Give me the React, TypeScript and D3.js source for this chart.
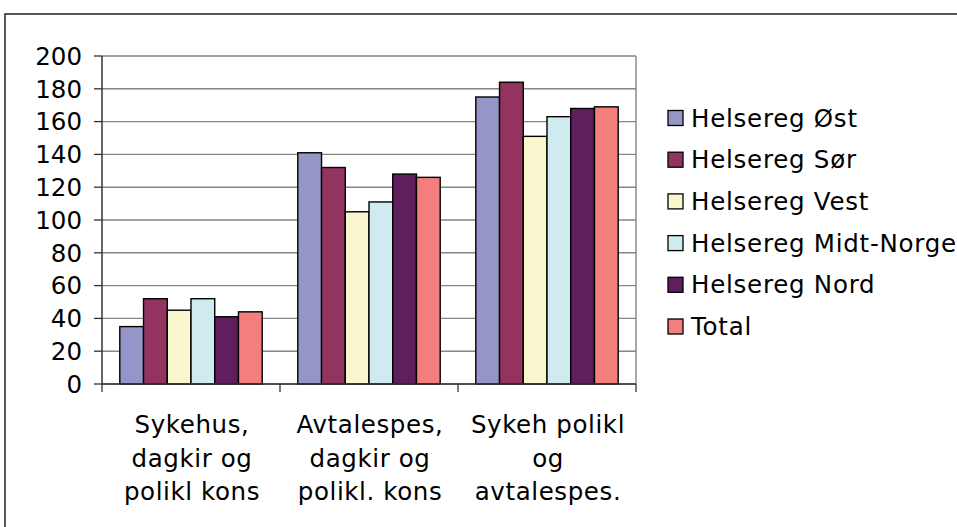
import React from "react";
import * as d3 from "d3";

const categories = [
  ["Sykehus,", "dagkir og", "polikl kons"],
  ["Avtalespes,", "dagkir og", "polikl. kons"],
  ["Sykeh polikl", "og", "avtalespes."],
];
const seriesNames = [
  "Helsereg Øst",
  "Helsereg Sør",
  "Helsereg Vest",
  "Helsereg Midt-Norge",
  "Helsereg Nord",
  "Total",
];
const seriesColors = ["#9595C8", "#933360", "#FAF7CE", "#CFEBEF", "#5F1E5E", "#F37E7E"];
const valuesOst = [35, 141, 175];
const valuesSor = [52, 132, 184];
const valuesVest = [45, 105, 151];
const valuesMidt = [52, 111, 163];
const valuesNord = [41, 128, 168];
const valuesTotal = [44, 126, 169];
const seriesValues = [valuesOst, valuesSor, valuesVest, valuesMidt, valuesNord, valuesTotal];
const yTicks = [0, 20, 40, 60, 80, 100, 120, 140, 160, 180, 200];

const FONT = "'DejaVu Sans', Verdana, sans-serif";

export default function App() {
  const W = 957;
  const H = 527;
  const left = 102;
  const right = 636;
  const top = 56;
  const bottom = 384;
  const catKeys = categories.map((_, i) => String(i));
  const x0 = d3.scaleBand<string>().domain(catKeys).range([left, right]).padding(0);
  const x1 = d3
    .scaleBand<string>()
    .domain(seriesNames)
    .range([0, x0.bandwidth()])
    .paddingInner(0)
    .paddingOuter(0.75);
  const y = d3.scaleLinear().domain([0, 200]).range([bottom, top]);
  const fs = 24.5;

  return (
    <div style={{ position: "absolute", left: 0, top: 0 }}>
      <svg width={W} height={H} style={{ display: "block", background: "#fff" }}>
        <rect x={5} y={14} width={1200} height={800} fill="#fff" stroke="#222" strokeWidth={1.5} />
        {/* gridlines */}
        {yTicks.map((t) => (
          <line key={"g" + t} x1={left} x2={right} y1={y(t)} y2={y(t)} stroke="#858585" strokeWidth={1.4} />
        ))}
        <line x1={right} x2={right} y1={top} y2={bottom} stroke="#858585" strokeWidth={1.4} />
        {/* bars */}
        {seriesNames.map((s, si) =>
          seriesValues[si].map((v, ci) => (
            <rect
              key={s + ci}
              x={(x0(String(ci)) as number) + (x1(s) as number)}
              y={y(v)}
              width={x1.bandwidth()}
              height={bottom - y(v)}
              fill={seriesColors[si]}
              stroke="#000"
              strokeWidth={1.4}
            />
          ))
        )}
        {/* axes */}
        <line x1={left} x2={left} y1={top} y2={bottom + 0.5} stroke="#333" strokeWidth={1.5} />
        <line x1={left} x2={right} y1={bottom} y2={bottom} stroke="#333" strokeWidth={1.5} />
        {yTicks.map((t) => (
          <g key={"t" + t}>
            <line x1={left - 8} x2={left} y1={y(t)} y2={y(t)} stroke="#333" strokeWidth={1.3} />
            <text x={82} y={y(t) + 8.8} textAnchor="end" fontFamily={FONT} fontSize={fs} fill="#000">
              {t}
            </text>
          </g>
        ))}
        {[...catKeys.map((k) => x0(k) as number), right].map((xx, i) => (
          <line key={"xt" + i} x1={xx} x2={xx} y1={bottom} y2={bottom + 8} stroke="#333" strokeWidth={1.3} />
        ))}
        {categories.map((lines, ci) => (
          <text
            key={"c" + ci}
            x={(x0(String(ci)) as number) + x0.bandwidth() / 2}
            y={433}
            textAnchor="middle"
            fontFamily={FONT}
            fontSize={fs}
            letterSpacing={0.6}
            fill="#000"
          >
            {lines.map((ln, li) => (
              <tspan key={li} x={(x0(String(ci)) as number) + x0.bandwidth() / 2 + 1} y={433 + li * 33.5}>
                {ln}
              </tspan>
            ))}
          </text>
        ))}
        {/* legend */}
        {seriesNames.map((s, si) => {
          const cy = 118 + si * 41.7;
          return (
            <g key={"l" + s}>
              <rect x={668} y={cy - 7.5} width={15} height={15} fill={seriesColors[si]} stroke="#000" strokeWidth={1.3} />
              <text x={691} y={cy + 8.5} fontFamily={FONT} fontSize={fs} letterSpacing={0.75} fill="#000">
                {s}
              </text>
            </g>
          );
        })}
      </svg>
    </div>
  );
}
